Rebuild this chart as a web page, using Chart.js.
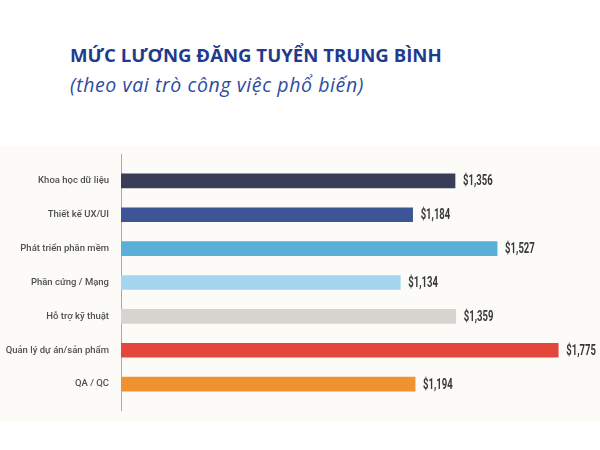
<!DOCTYPE html>
<html>
<head>
<meta charset="utf-8">
<script src="https://cdn.jsdelivr.net/npm/chart.js@4"></script>
<style>
  html, body { margin: 0; padding: 0; background: #ffffff; }
  #wrap { position: relative; width: 600px; height: 450px; overflow: hidden; }
  #band { position: absolute; left: 0; top: 145px; width: 600px; height: 276px; background: #fcfbf8; }
  #title { position: absolute; left: 70px; top: 42px; font: 700 18.6px "Open Sans", sans-serif; color: #1e3b8e; white-space: nowrap; }
  #sub { position: absolute; left: 70px; top: 71px; font: italic 400 19.5px "Open Sans", sans-serif; color: #2c4c9e; white-space: nowrap; letter-spacing: 0.6px; }
  canvas { position: absolute; left: 0; top: 0; }
</style>
</head>
<body>
<div id="wrap">
  <div id="band"></div>
  <div id="title">MỨC LƯƠNG ĐĂNG TUYỂN TRUNG BÌNH</div>
  <div id="sub">(theo vai trò công việc phổ biến)</div>
  <canvas id="salary" width="600" height="450"></canvas>
</div>
<script>
const roles = ["Khoa học dữ liệu", "Thiết kế UX/UI", "Phát triển phần mềm", "Phần cứng / Mạng",
               "Hỗ trợ kỹ thuật", "Quản lý dự án/sản phẩm", "QA / QC"];
const salaries = [1356, 1184, 1527, 1134, 1359, 1775, 1194];
const barColors = ["#3a3d56", "#3d5596", "#5aafd9", "#a3d6ee", "#d7d4d0", "#e5463b", "#f0922f"];

// value labels at the end of each bar, squeezed to look condensed
const valueLabels = {
  id: 'valueLabels',
  afterDatasetsDraw(chart) {
    const ctx = chart.ctx;
    const meta = chart.getDatasetMeta(0);
    meta.data.forEach((bar, i) => {
      ctx.save();
      ctx.translate(bar.x + 8, bar.y + 1);
      ctx.scale(0.68, 1);
      ctx.font = 'bold 14px Roboto, sans-serif';
      ctx.fillStyle = '#383838';
      ctx.textBaseline = 'middle';
      ctx.fillText('$' + salaries[i].toLocaleString('en-US'), 0, 0);
      ctx.restore();
    });
  }
};

// vertical axis line, a bit longer than the category band
const axisLine = {
  id: 'axisLine',
  beforeDatasetsDraw(chart) {
    const { ctx, chartArea } = chart;
    ctx.save();
    ctx.strokeStyle = '#a9a9a9';
    ctx.lineWidth = 1;
    ctx.beginPath();
    ctx.moveTo(chartArea.left + 0.5, chartArea.top - 10);
    ctx.lineTo(chartArea.left + 0.5, chartArea.bottom + 10);
    ctx.stroke();
    ctx.restore();
  }
};

new Chart(document.getElementById("salary"), {
  type: 'bar',
  data: {
    labels: roles,
    datasets: [{
      label: "Mức lương",
      data: salaries,
      backgroundColor: barColors,
      barThickness: 14,
      borderWidth: 0
    }]
  },
  options: {
    indexAxis: 'y',
    responsive: false,
    animation: false,
    layout: { padding: { top: 164, bottom: 49, left: 0, right: 11 } },
    plugins: {
      legend: { display: false },
      tooltip: { enabled: false }
    },
    scales: {
      x: { display: false, min: 0, max: 1900 },
      y: {
        grid: { display: false, drawTicks: false },
        border: { display: false },
        ticks: {
          padding: 12,
          color: '#505050',
          font: { family: 'Roboto', size: 9.5, weight: '500' }
        },
        afterFit(scale) { scale.width = 121; }
      }
    }
  },
  plugins: [axisLine, valueLabels]
});
</script>
</body>
</html>
